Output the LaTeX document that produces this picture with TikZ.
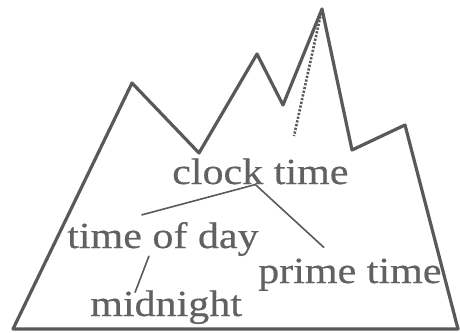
\documentclass[tikz,border=0pt]{standalone}
\usepackage{fontspec}
\setmainfont{Liberation Serif}[FakeBold=0.4]
\definecolor{rock}{gray}{0.35}
\definecolor{ink}{gray}{0.38}
\tikzset{
	word/.style={font=\fontsize{37}{42}\selectfont, text=ink, inner sep=0pt, anchor=base west, xscale=1.14},
	link/.style={draw=rock, line width=1.6bp}
}
\begin{document}
\begin{tikzpicture}[x=1bp, y=1bp, line join=round, line cap=round]
		\useasboundingbox (0,0) rectangle (460,332);
		\path
		(13,3) coordinate (L)
		(132,249) coordinate (P1)
		(199,179) coordinate (V1)
		(257,278) coordinate (P2)
		(283,227) coordinate (V2)
		(322,323) coordinate (P3)
		(352,182) coordinate (V3)
		(405,207) coordinate (P4)
		(458,3) coordinate (R)
		(294,196) coordinate (T)
		;
		\draw[rock, line width=3.2bp] (L)--(P1)--(V1)--(P2)--(V2)--(P3)--(V3)--(P4)--(R)--cycle;
		\draw[rock, line width=2.6bp, line cap=butt, dash pattern=on 2.2bp off 1.6bp] (P3)--(T);
		\node[word] (clock) at (172,148) {clock time};
		\node[word] (day) at (67,84) {time of day};
		\node[word] (prime) at (258,49) {prime time};
		\node[word] (mid) at (90,16) {midnight};
		\draw[link] ([xshift=-5bp]clock.south) -- ([xshift=-21bp, yshift=7bp]day.north);
		\draw[link] ([xshift=-5bp]clock.south) -- ([xshift=-26bp, yshift=11bp]prime.north);
		\draw[link] ([xshift=-14bp]day.south) -- ([xshift=-31bp, yshift=-2bp]mid.north);
\end{tikzpicture}
\end{document}
